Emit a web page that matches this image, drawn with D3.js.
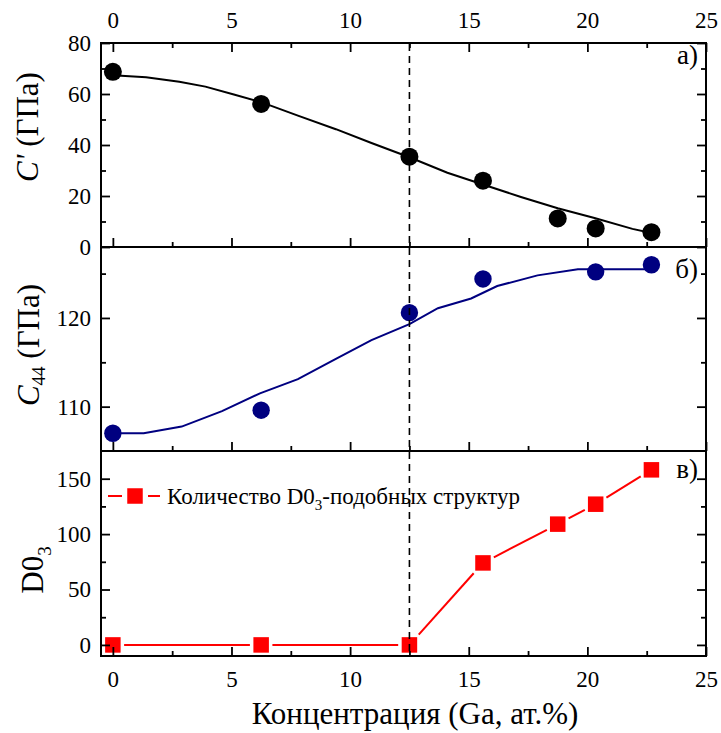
<!DOCTYPE html>
<html><head><meta charset="utf-8">
<script src="https://cdn.jsdelivr.net/npm/d3@7"></script>
</head><body style="margin:0;background:#fff"><svg id="chart" width="721" height="733" font-family="Liberation Serif"></svg>
<script>
// Ga concentration (at.%) of the computed structures
const gaConc = [0, 6.25, 12.5, 15.6, 18.75, 20.35, 22.7];
// Shear modulus C' (GPa)
const cPrime = [68.7, 56.1, 35.4, 26.0, 11.2, 7.3, 5.8];
const cPrimeFitConc = [0, 1.4, 2.8, 3.9, 5.1, 6.25, 7.8, 9.4, 10.9, 12.5, 14.1, 15.6, 17.2, 18.75, 20.3, 21.9, 22.7];
const cPrimeFit = [67.4, 66.6, 64.8, 62.9, 59.8, 56.8, 51.5, 46.2, 40.8, 35.2, 29.1, 24.5, 19.6, 15.2, 11.4, 7.1, 5.5];
// C44 (GPa)
const c44Conc = [0, 6.25, 12.5, 15.6, 20.35, 22.7];
const c44 = [107.0, 109.6, 120.6, 124.4, 125.2, 126.0];
const c44FitConc = [0, 1.3, 2.9, 4.6, 6.2, 7.8, 9.4, 10.9, 12.5, 13.7, 15.1, 16.2, 17.9, 19.6, 22.7];
const c44Fit = [107.0, 107.0, 107.75, 109.5, 111.5, 113.1, 115.4, 117.5, 119.3, 121.1, 122.2, 123.6, 124.8, 125.5, 125.5];
// Number of D0_3-like structures
const d03Count = [0, 0, 0, 74, 109, 127, 158];

const xTicks = [0, 5, 10, 15, 20, 25];
const xMinorTicks = [2.5, 7.5, 12.5, 17.5, 22.5];
const cPrimeTicks = [0, 20, 40, 60, 80];
const cPrimeMinor = [10, 30, 50, 70];
const c44TickValues = [110, 120];
const c44Minor = [115, 125];
const d03Ticks = [0, 50, 100, 150];
const d03Minor = [25, 75, 125];
const dividerConc = 12.5;

const FONT = "Liberation Serif";
const svg = d3.select("#chart");
const left = 101, right = 706;
const x = d3.scaleLinear().domain([-0.5, 25]).range([left, right]);

const MAJ = 9, MIN = 5, FS = 23;

function frame(top, bottom, y, major, minor, opt) {
  const g = svg.append("g");
  const side = (axisFn, pos, vals, size, labels, pad) => {
    const a = axisFn.tickValues(vals).tickSizeInner(-size).tickSizeOuter(0).tickPadding(pad || 10);
    if (!labels) a.tickFormat("");
    const ag = g.append("g").attr("transform", pos).call(a);
    ag.attr("font-family", FONT).attr("font-size", FS);
    ag.select(".domain").remove();
    ag.selectAll(".tick line").attr("stroke", "#000").attr("stroke-width", 1.8);
    ag.selectAll(".tick text").attr("font-family", FONT).attr("font-size", FS).attr("fill", "#000");
    return ag;
  };
  side(d3.axisLeft(y), `translate(${left},0)`, major, MAJ, true, 10);
  side(d3.axisLeft(y), `translate(${left},0)`, minor, MIN, false);
  side(d3.axisRight(y), `translate(${right},0)`, major, MAJ, false);
  side(d3.axisRight(y), `translate(${right},0)`, minor, MIN, false);
  side(d3.axisBottom(x), `translate(0,${bottom})`, xTicks, MAJ, opt.bottomLabels, 15);
  side(d3.axisBottom(x), `translate(0,${bottom})`, xMinorTicks, MIN, false);
  if (opt.topTicks) {
    side(d3.axisTop(x), `translate(0,${top})`, xTicks, MAJ, true, 15);
    side(d3.axisTop(x), `translate(0,${top})`, xMinorTicks, MIN, false);
  }
  g.append("rect").attr("x", left).attr("y", top).attr("width", right - left).attr("height", bottom - top)
    .attr("fill", "none").attr("stroke", "#000").attr("stroke-width", 2);
  return g;
}

// Panel a: C'
const yA = d3.scaleLinear().domain([0, 80]).range([247, 43]);
// Panel b: C44
const yB = d3.scaleLinear().domain([105, 128]).range([451, 247]);
// Panel c: D0_3 count
const yC = d3.scaleLinear().domain([-10, 175]).range([656, 451]);

const line = (ys) => d3.line().x(d => x(d[0])).y(d => ys(d[1]));

// curves and markers
const gA = svg.append("g");
gA.append("path").datum(d3.zip(cPrimeFitConc, cPrimeFit)).attr("d", line(yA))
  .attr("fill", "none").attr("stroke", "#000").attr("stroke-width", 2);
gA.selectAll("circle").data(d3.zip(gaConc, cPrime)).join("circle")
  .attr("cx", d => x(d[0])).attr("cy", d => yA(d[1])).attr("r", 9).attr("fill", "#000");

const gB = svg.append("g");
gB.append("path").datum(d3.zip(c44FitConc, c44Fit)).attr("d", line(yB))
  .attr("fill", "none").attr("stroke", "#000080").attr("stroke-width", 2);
gB.selectAll("circle").data(d3.zip(c44Conc, c44)).join("circle")
  .attr("cx", d => x(d[0])).attr("cy", d => yB(d[1])).attr("r", 8.7).attr("fill", "#000080");

const gC = svg.append("g");
const red = "#ff0000", SQ = 15.5;
const pts = d3.zip(gaConc, d03Count).map(d => [x(d[0]), yC(d[1])]);
// connecting segments stop short of each square marker
for (let i = 0; i < pts.length - 1; i++) {
  const [x0, y0] = pts[i], [x1, y1] = pts[i + 1];
  const dx = x1 - x0, dy = y1 - y0, L = Math.hypot(dx, dy);
  const ux = dx / L, uy = dy / L;
  const cut = (SQ / 2) / Math.max(Math.abs(ux), Math.abs(uy)) + 3.5;
  if (L > 2 * cut) {
    gC.append("line").attr("x1", x0 + ux * cut).attr("y1", y0 + uy * cut)
      .attr("x2", x1 - ux * cut).attr("y2", y1 - uy * cut)
      .attr("stroke", red).attr("stroke-width", 2);
  }
}
gC.selectAll("rect").data(pts).join("rect")
  .attr("x", d => d[0] - SQ / 2).attr("y", d => d[1] - SQ / 2).attr("width", SQ).attr("height", SQ).attr("fill", red);

// frames with inward ticks
frame(43, 247, yA, cPrimeTicks, cPrimeMinor, {topTicks: true, bottomLabels: false});
frame(247, 451, yB, c44TickValues, c44Minor, {topTicks: false, bottomLabels: false});
frame(451, 656, yC, d03Ticks, d03Minor, {topTicks: false, bottomLabels: true});

// vertical divider
svg.append("line").attr("x1", x(dividerConc)).attr("x2", x(dividerConc)).attr("y1", 44).attr("y2", 655)
  .attr("stroke", "#000").attr("stroke-width", 1.6).attr("stroke-dasharray", "7,5");

const txt = (sel, size) => sel.append("text").attr("font-family", FONT).attr("font-size", size).attr("fill", "#000");

// panel letters
const letter = (t, yy) => txt(svg, 27).attr("x", 698).attr("y", yy).attr("text-anchor", "end").text(t);
letter("а)", 64);
letter("б)", 278);
letter("в)", 478);

// legend
const lg = svg.append("g");
lg.append("line").attr("x1", 108).attr("x2", 122).attr("y1", 496).attr("y2", 496).attr("stroke", red).attr("stroke-width", 2);
lg.append("line").attr("x1", 148).attr("x2", 160).attr("y1", 496).attr("y2", 496).attr("stroke", red).attr("stroke-width", 2);
lg.append("rect").attr("x", 135 - SQ / 2).attr("y", 496 - SQ / 2).attr("width", SQ).attr("height", SQ).attr("fill", red);
const lt = txt(lg, 23).attr("x", 167).attr("y", 504);
lt.append("tspan").text("Количество D0");
lt.append("tspan").attr("font-size", 15).attr("dy", 6).text("3");
lt.append("tspan").attr("dy", -6).text("-подобных структур");

// axis titles
txt(svg, 31).attr("x", 415).attr("y", 724).attr("text-anchor", "middle").text("Концентрация (Ga, ат.%)");

const ytitle = (bx, cy, build) => {
  const t = txt(svg, 31).attr("transform", `translate(${bx},${cy}) rotate(-90)`).attr("text-anchor", "middle");
  build(t);
};
ytitle(38, 127, t => {
  t.append("tspan").attr("font-style", "italic").text("C'");
  t.append("tspan").text(" (ГПа)");
});
ytitle(39, 345, t => {
  t.append("tspan").attr("font-style", "italic").text("C");
  t.append("tspan").attr("font-size", 19).attr("dy", 6).text("44");
  t.append("tspan").attr("dy", -6).text(" (ГПа)");
});
ytitle(43, 570, t => {
  t.append("tspan").text("D0");
  t.append("tspan").attr("font-size", 19).attr("dy", 8).text("3");
});
</script>
</body></html>
